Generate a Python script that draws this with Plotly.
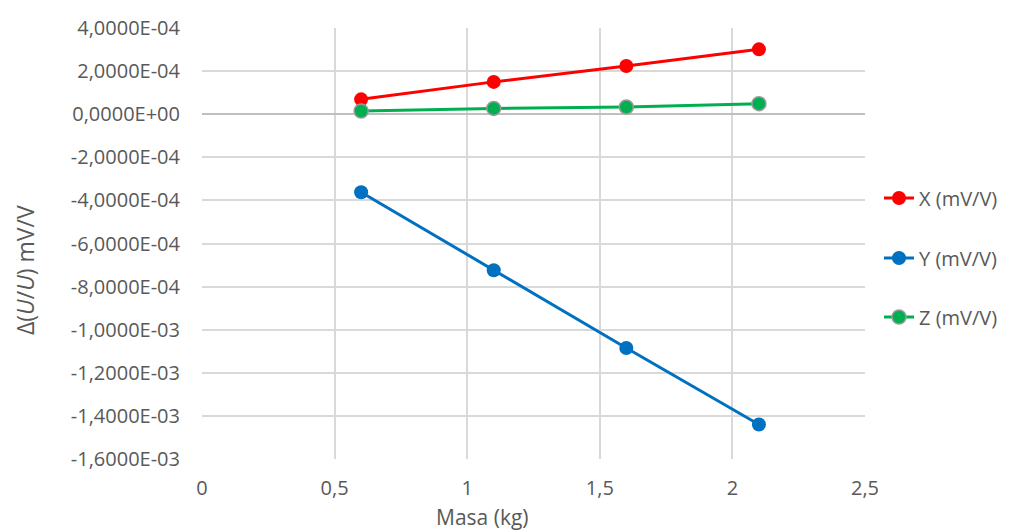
import plotly.graph_objects as go

masa = [0.6, 1.1, 1.6, 2.1]
x_vals = [6.9e-05, 1.50e-04, 2.24e-04, 3.01e-04]
y_vals = [-3.62e-04, -7.24e-04, -1.085e-03, -1.44e-03]
z_vals = [1.5e-05, 2.7e-05, 3.3e-05, 4.9e-05]

series_names = ["X (mV/V)", "Y (mV/V)", "Z (mV/V)"]
series_colors = ["#FF0000", "#0070C0", "#00B050"]

y_ticks = [4e-4, 2e-4, 0.0, -2e-4, -4e-4, -6e-4, -8e-4, -1e-3, -1.2e-3, -1.4e-3, -1.6e-3]
y_ticklabels = ["4,0000E-04", "2,0000E-04", "0,0000E+00", "-2,0000E-04", "-4,0000E-04",
                "-6,0000E-04", "-8,0000E-04", "-1,0000E-03", "-1,2000E-03", "-1,4000E-03",
                "-1,6000E-03"]
x_ticks = [0, 0.5, 1, 1.5, 2, 2.5]
x_ticklabels = ["0", "0,5", "1", "1,5", "2", "2,5"]

FONT = "Open Sans"
TXT = "#595959"

# page body has an 8px margin: figure is 1014x522 placed at (8,8)
W, H = 1014, 522
L, R, T, B = 194, 157, 20, 71
pw = W - L - R
ph = H - T - B

def px(xp):  # page x -> paper
    return (xp - 8 - L) / pw

def py(yp):  # page y -> paper
    return (H - B - (yp - 8)) / ph

legend_ids = ["legend", "legend2", "legend3"]
legend_y_page = [198, 258, 317]

fig = go.Figure()
for name, vals, col, lid in zip(series_names, [x_vals, y_vals, z_vals], series_colors, legend_ids):
    mk = dict(size=14, color=col)
    if name.startswith("Z"):
        mk["line"] = dict(color="#9a9a9a", width=1.5)
    else:
        mk["line"] = dict(color=col, width=0)
    fig.add_trace(go.Scatter(x=masa, y=vals, name=name, mode="lines+markers",
                             line=dict(color=col, width=3), marker=mk, legend=lid))

leg_common = dict(xanchor="left", yanchor="middle", font=dict(family=FONT, size=20, color=TXT),
                  bgcolor="rgba(0,0,0,0)", borderwidth=0)
legends = {}
for lid, yp in zip(legend_ids, legend_y_page):
    legends[lid] = dict(x=px(879), y=py(yp), **leg_common)

fig.update_layout(
    width=W, height=H,
    margin=dict(l=L, r=R, t=T, b=B, autoexpand=False),
    paper_bgcolor="white", plot_bgcolor="white",
    font=dict(family=FONT, size=20, color=TXT),
    showlegend=True,
    xaxis=dict(range=[0, 2.5], tickvals=x_ticks, ticktext=x_ticklabels,
               showgrid=True, gridcolor="#d9d9d9", gridwidth=1.5,
               zeroline=False, showline=False, ticks="", ticklabelstandoff=15,
               tickfont=dict(family=FONT, size=20, color=TXT)),
    yaxis=dict(range=[-1.6e-3, 4e-4], tickvals=y_ticks, ticktext=y_ticklabels,
               showgrid=True, gridcolor="#d9d9d9", gridwidth=1.5,
               zeroline=True, zerolinecolor="#bfbfbf", zerolinewidth=2,
               showline=False, ticks="", ticklabelstandoff=21,
               tickfont=dict(family=FONT, size=20, color=TXT)),
    annotations=[
        dict(text="Masa (kg)", x=px(482), y=py(517), xref="paper", yref="paper",
             xanchor="center", yanchor="middle", showarrow=False, borderpad=0,
             font=dict(family=FONT, size=21, color=TXT)),
        dict(text="Δ(<i>U</i>/<i>U</i>) mV/V", x=px(25), y=py(270), xref="paper", yref="paper",
             xanchor="center", yanchor="middle", textangle=-90, showarrow=False,
             font=dict(family=FONT, size=23, color=TXT)),
    ],
    **legends,
)

fig.write_html("out.html")
